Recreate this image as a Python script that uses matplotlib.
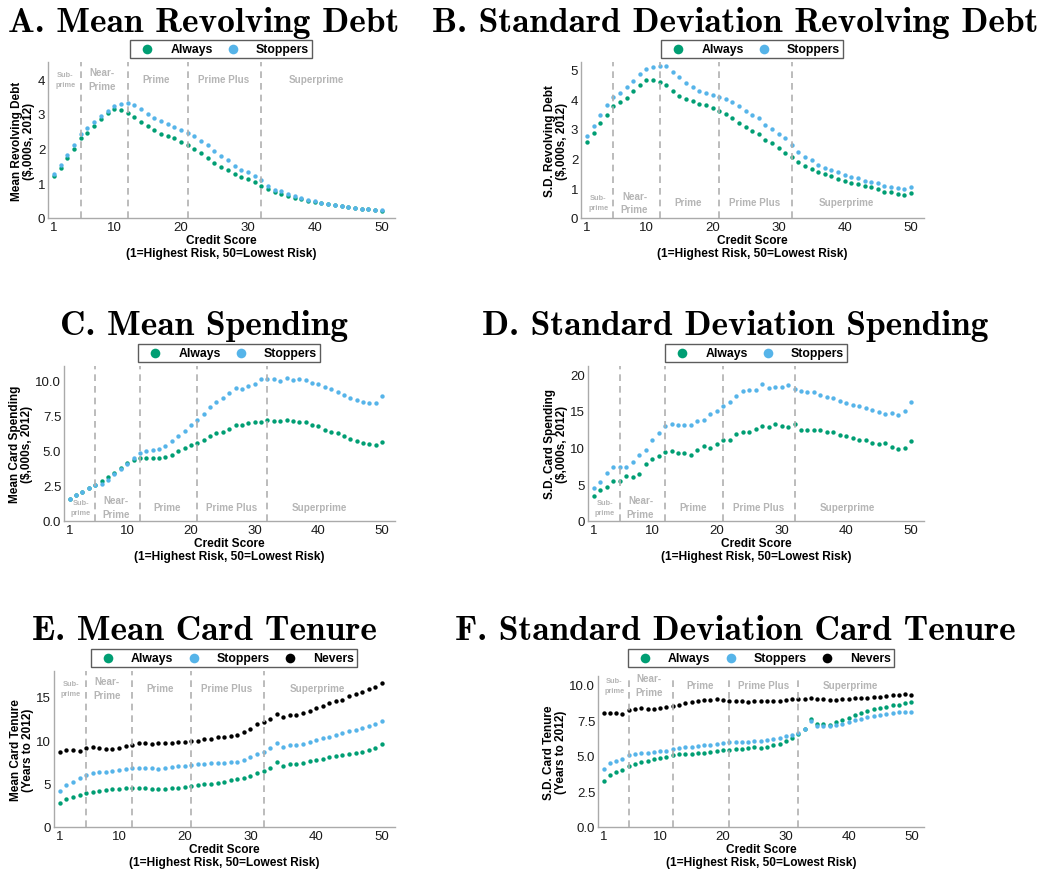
import numpy as np
from matplotlib import pyplot as plt

plt.rcParams['font.family'] = ['Liberation Sans', 'DejaVu Sans']

score = np.arange(1, 51)

debt_mean_always = [1.21, 1.43, 1.72, 2.00, 2.30, 2.46, 2.65, 2.85, 3.03, 3.14,
                    3.12, 3.04, 2.92, 2.77, 2.64, 2.54, 2.43, 2.37, 2.31, 2.19,
                    2.10, 1.99, 1.88, 1.73, 1.60, 1.48, 1.39, 1.28, 1.19, 1.12,
                    1.03, 0.93, 0.83, 0.74, 0.69, 0.64, 0.59, 0.54, 0.50, 0.46,
                    0.42, 0.39, 0.37, 0.35, 0.32, 0.29, 0.27, 0.25, 0.23, 0.20]
debt_mean_stoppers = [1.26, 1.54, 1.82, 2.12, 2.42, 2.60, 2.78, 2.93, 3.10, 3.24,
                      3.29, 3.31, 3.26, 3.13, 3.01, 2.88, 2.79, 2.71, 2.63, 2.54,
                      2.44, 2.36, 2.23, 2.10, 1.93, 1.80, 1.66, 1.51, 1.39, 1.32,
                      1.22, 1.09, 0.93, 0.82, 0.78, 0.69, 0.63, 0.58, 0.53, 0.49,
                      0.44, 0.41, 0.38, 0.35, 0.32, 0.29, 0.27, 0.25, 0.23, 0.22]

debt_sd_always = [2.57, 2.85, 3.20, 3.48, 3.77, 3.89, 4.04, 4.28, 4.49, 4.65,
                  4.64, 4.57, 4.46, 4.28, 4.12, 4.02, 3.93, 3.85, 3.80, 3.69,
                  3.61, 3.49, 3.36, 3.20, 3.06, 2.94, 2.82, 2.64, 2.51, 2.37,
                  2.20, 2.06, 1.87, 1.74, 1.66, 1.55, 1.47, 1.41, 1.32, 1.24,
                  1.19, 1.13, 1.09, 1.04, 0.97, 0.88, 0.86, 0.82, 0.79, 0.84]
debt_sd_stoppers = [2.75, 3.08, 3.48, 3.79, 4.07, 4.22, 4.41, 4.61, 4.83, 5.02,
                    5.09, 5.11, 5.10, 4.91, 4.73, 4.53, 4.42, 4.28, 4.22, 4.14,
                    4.07, 3.99, 3.89, 3.76, 3.59, 3.47, 3.36, 3.13, 2.98, 2.83,
                    2.68, 2.46, 2.21, 2.04, 1.96, 1.80, 1.69, 1.63, 1.55, 1.45,
                    1.39, 1.33, 1.25, 1.22, 1.17, 1.08, 1.05, 1.01, 0.98, 1.03]

spend_mean_always = [1.58, 1.84, 2.09, 2.35, 2.52, 2.85, 3.11, 3.44, 3.79, 4.12,
                     4.33, 4.45, 4.47, 4.49, 4.49, 4.52, 4.66, 4.99, 5.18, 5.36,
                     5.53, 5.76, 6.05, 6.21, 6.35, 6.56, 6.80, 6.80, 6.92, 7.04,
                     7.04, 7.15, 7.13, 7.11, 7.15, 7.13, 7.04, 7.01, 6.82, 6.71,
                     6.47, 6.35, 6.21, 6.00, 5.84, 5.67, 5.55, 5.48, 5.41, 5.58]
spend_mean_stoppers = [1.58, 1.84, 2.09, 2.35, 2.54, 2.64, 2.94, 3.36, 3.69, 4.05,
                       4.45, 4.80, 4.94, 5.06, 5.11, 5.32, 5.65, 6.02, 6.42, 6.80,
                       7.20, 7.60, 8.09, 8.47, 8.73, 9.06, 9.44, 9.34, 9.60, 9.74,
                       10.05, 10.07, 10.05, 9.95, 10.14, 10.02, 10.05, 9.98, 9.79, 9.69,
                       9.48, 9.36, 9.15, 8.96, 8.75, 8.56, 8.45, 8.35, 8.38, 8.89]

spend_sd_always = [3.43, 4.20, 4.65, 5.51, 5.51, 6.19, 5.96, 6.46, 7.72, 8.40,
                   8.85, 9.35, 9.57, 9.21, 9.21, 8.94, 9.62, 10.25, 9.93, 10.43,
                   11.02, 11.02, 11.83, 12.10, 12.10, 12.46, 13.00, 12.82, 13.23, 13.00,
                   12.78, 13.18, 12.37, 12.37, 12.37, 12.37, 12.10, 12.10, 11.74, 11.60,
                   11.24, 10.97, 10.97, 10.56, 10.47, 10.56, 10.11, 9.80, 9.93, 10.93]
spend_sd_stoppers = [4.51, 5.37, 6.59, 7.31, 7.31, 7.31, 7.99, 9.03, 9.66, 11.02,
                     11.96, 12.87, 13.23, 13.05, 13.05, 13.09, 13.59, 13.81, 14.54, 14.99,
                     15.67, 16.21, 16.98, 17.65, 17.83, 17.88, 18.60, 18.10, 18.19, 18.28,
                     18.56, 18.01, 17.74, 17.52, 17.52, 17.16, 16.88, 16.70, 16.30, 16.12,
                     15.85, 15.71, 15.40, 15.17, 14.85, 14.63, 14.72, 14.49, 14.94, 16.25]

tenure_mean_always = [2.81, 3.20, 3.43, 3.70, 3.93, 4.05, 4.12, 4.24, 4.35, 4.43,
                      4.51, 4.51, 4.51, 4.47, 4.43, 4.39, 4.43, 4.47, 4.55, 4.62,
                      4.70, 4.86, 4.97, 5.01, 5.13, 5.24, 5.39, 5.51, 5.70, 5.93,
                      6.20, 6.44, 6.78, 7.51, 7.09, 7.28, 7.24, 7.44, 7.59, 7.75,
                      7.90, 8.02, 8.17, 8.32, 8.44, 8.55, 8.67, 8.86, 9.13, 9.56]
tenure_mean_stoppers = [4.12, 4.82, 5.16, 5.63, 6.05, 6.20, 6.32, 6.40, 6.47, 6.59,
                        6.71, 6.78, 6.86, 6.86, 6.82, 6.74, 6.78, 6.90, 7.01, 7.09,
                        7.17, 7.24, 7.32, 7.36, 7.44, 7.44, 7.51, 7.55, 7.75, 8.02,
                        8.40, 8.71, 9.17, 9.75, 9.25, 9.44, 9.44, 9.60, 9.79, 10.02,
                        10.25, 10.44, 10.67, 10.83, 11.06, 11.25, 11.41, 11.60, 11.87, 12.25]
tenure_mean_nevers = [8.71, 8.94, 8.86, 8.79, 9.13, 9.21, 9.09, 9.02, 8.98, 9.13,
                      9.33, 9.48, 9.67, 9.75, 9.63, 9.71, 9.71, 9.67, 9.86, 9.86,
                      9.90, 9.94, 10.10, 10.13, 10.40, 10.44, 10.52, 10.64, 10.91, 11.33,
                      11.83, 12.14, 12.49, 13.03, 12.68, 12.91, 12.91, 13.10, 13.37, 13.72,
                      13.99, 14.26, 14.53, 14.68, 15.07, 15.38, 15.61, 15.92, 16.18, 16.57]

tenure_sd_always = [3.26, 3.63, 3.84, 4.00, 4.26, 4.43, 4.54, 4.66, 4.75, 4.87,
                    4.94, 5.04, 5.11, 5.13, 5.15, 5.20, 5.22, 5.27, 5.34, 5.39,
                    5.43, 5.46, 5.50, 5.53, 5.60, 5.57, 5.64, 5.74, 5.83, 6.02,
                    6.28, 6.56, 6.91, 7.61, 7.21, 7.24, 7.14, 7.38, 7.54, 7.68,
                    7.89, 8.03, 8.15, 8.27, 8.34, 8.43, 8.57, 8.59, 8.67, 8.78]
tenure_sd_stoppers = [4.10, 4.47, 4.61, 4.78, 5.04, 5.13, 5.18, 5.20, 5.27, 5.34,
                      5.36, 5.46, 5.53, 5.60, 5.64, 5.69, 5.74, 5.78, 5.85, 5.90,
                      5.95, 5.95, 6.00, 6.00, 6.07, 6.07, 6.11, 6.18, 6.23, 6.37,
                      6.46, 6.63, 6.89, 7.47, 7.10, 7.07, 7.07, 7.17, 7.26, 7.38,
                      7.52, 7.61, 7.73, 7.82, 7.89, 7.94, 8.03, 8.06, 8.10, 8.06]
tenure_sd_nevers = [8.01, 8.03, 8.03, 7.94, 8.22, 8.31, 8.34, 8.31, 8.29, 8.36,
                    8.41, 8.48, 8.59, 8.69, 8.76, 8.88, 8.90, 8.92, 8.97, 8.92,
                    8.88, 8.85, 8.83, 8.78, 8.88, 8.85, 8.83, 8.81, 8.83, 8.90,
                    8.97, 8.97, 8.99, 9.09, 9.02, 8.97, 8.95, 8.95, 8.99, 9.02,
                    9.04, 9.09, 9.09, 9.13, 9.16, 9.20, 9.25, 9.30, 9.32, 9.25]

cutoffs = [5, 12, 21, 32]
regions = ['Sub-\nprime', 'Near-\nPrime', 'Prime', 'Prime Plus', 'Superprime']
region_x = [2.7, 8.2, 16.3, 26.4, 40.2]

colors = {'Always': '#009E73', 'Stoppers': '#56B4E9', 'Nevers': '#000000'}
W, H = 1048, 870

panels = [
    dict(title='A. Mean Revolving Debt', ylabel='Mean Revolving Debt\n($,000s, 2012)',
         series={'Always': debt_mean_always, 'Stoppers': debt_mean_stoppers},
         box=(48, 395, 63, 219), ylim=4.5, yticks=[0, 1, 2, 3, 4], ry=0.89,
         tx=204, ty=32, lx=221, ly=59),
    dict(title='B. Standard Deviation Revolving Debt', ylabel='S.D. Revolving Debt\n($,000s, 2012)',
         series={'Always': debt_sd_always, 'Stoppers': debt_sd_stoppers},
         box=(581, 924, 63, 219), ylim=5.25, yticks=[0, 1, 2, 3, 4, 5], ry=0.10,
         tx=735, ty=32, lx=752, ly=59),
    dict(title='C. Mean Spending', ylabel='Mean Card Spending\n($,000s, 2012)',
         series={'Always': spend_mean_always, 'Stoppers': spend_mean_stoppers},
         box=(64, 395, 367, 522), ylim=11.0, yticks=[0, 2.5, 5, 7.5, 10], ry=0.09,
         tx=204, ty=335, lx=229, ly=363),
    dict(title='D. Standard Deviation Spending', ylabel='S.D. Card Spending\n($,000s, 2012)',
         series={'Always': spend_sd_always, 'Stoppers': spend_sd_stoppers},
         box=(588, 924, 367, 522), ylim=21.1, yticks=[0, 5, 10, 15, 20], ry=0.09,
         tx=735, ty=335, lx=756, ly=363),
    dict(title='E. Mean Card Tenure', ylabel='Mean Card Tenure\n(Years to 2012)',
         series={'Always': tenure_mean_always, 'Stoppers': tenure_mean_stoppers,
                 'Nevers': tenure_mean_nevers},
         box=(54, 395, 672, 828), ylim=18.0, yticks=[0, 5, 10, 15], ry=0.89,
         tx=204, ty=640, lx=224, ly=668),
    dict(title='F. Standard Deviation Card Tenure', ylabel='S.D. Card Tenure\n(Years to 2012)',
         series={'Always': tenure_sd_always, 'Stoppers': tenure_sd_stoppers,
                 'Nevers': tenure_sd_nevers},
         box=(598, 924, 677, 828), ylim=10.6, yticks=[0, 2.5, 5, 7.5, 10], ry=0.94,
         tx=735, ty=640, lx=761, ly=668),
]

fig = plt.figure(figsize=(W / 100, H / 100), dpi=100)

for p in panels:
    x0, x1, y0, y1 = p['box']
    ax = fig.add_axes([x0 / W, 1 - y1 / H, (x1 - x0) / W, (y1 - y0) / H])
    for name, vals in p['series'].items():
        ax.scatter(score, vals, s=10, color=colors[name], linewidths=0, label=name, zorder=2)
    for c in cutoffs:
        ax.axvline(c, color='#b0b0b0', ls=(0, (4, 3)), lw=1.2, zorder=3)
    trans = ax.get_xaxis_transform()
    for i, (lab, rx) in enumerate(zip(regions, region_x)):
        ax.text(rx, p['ry'], lab, transform=trans, ha='center', va='center',
                color='#b5b5b5', fontweight='bold',
                fontsize=5.3 if i == 0 else 7.1, linespacing=1.6 if i == 0 else 1.45)
    ax.set_xlim(0.1, 52)
    ax.set_ylim(0, p['ylim'])
    ax.set_xticks([1, 10, 20, 30, 40, 50])
    ax.set_yticks(p['yticks'])
    for s in ['top', 'right']:
        ax.spines[s].set_visible(False)
    for s in ['left', 'bottom']:
        ax.spines[s].set_color('#aaaaaa')
        ax.spines[s].set_linewidth(1)
    ax.tick_params(length=0, labelsize=9.5, colors='#1a1a1a', pad=2)
    ax.set_xlabel('Credit Score\n(1=Highest Risk, 50=Lowest Risk)', fontsize=8.6,
                  fontweight='bold', labelpad=1, linespacing=1.05)
    ax.set_ylabel(p['ylabel'], fontsize=8.5, fontweight='bold', labelpad=2, linespacing=0.95)
    leg = ax.legend(loc='lower center', bbox_to_anchor=(p['lx'] / W, 1 - p['ly'] / H),
                    bbox_transform=fig.transFigure, ncol=len(p['series']),
                    prop={'weight': 'bold', 'size': 8.8}, frameon=True,
                    fancybox=False, edgecolor='#333333', markerscale=2.2,
                    handlelength=2.3, handletextpad=0.75, columnspacing=0.5,
                    borderpad=0.25, borderaxespad=0)
    leg.get_frame().set_linewidth(1.0)
    fig.text(p['tx'] / W, 1 - p['ty'] / H, p['title'], ha='center', va='baseline',
             family='cmb10', fontsize=25.5)

fig.savefig('out.png', dpi=100)
